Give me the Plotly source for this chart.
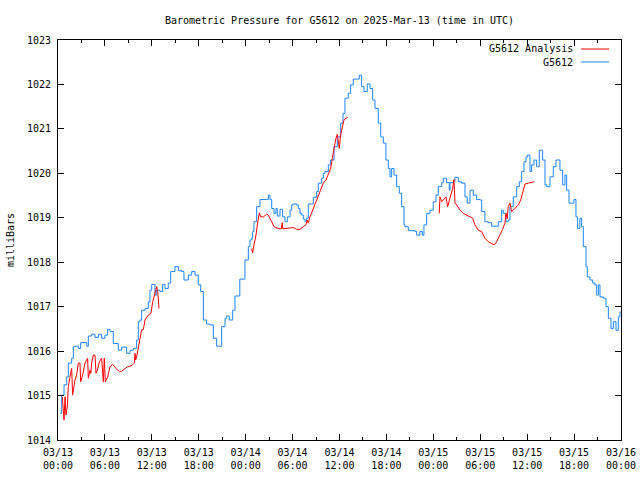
import plotly.graph_objects as go
import pandas as pd

base = pd.Timestamp("2025-03-13 00:00")

# hours since 2025-03-13 00:00 UTC, and pressure (mbar)
obs_hours = [0.26,0.47,0.77,1.11,1.32,1.75,1.96,2.17,2.60,2.90,3.67,3.88,4.30,4.73,5.16,5.58,6.01,6.35,6.65,7.07,
             7.71,8.14,8.57,8.78,9.21,9.63,10.06,10.27,10.49,10.70,11.13,11.55,11.76,11.98,12.40,12.62,13.04,13.38,13.68,14.10,
             14.41,14.96,15.39,15.82,16.11,16.67,17.10,17.52,17.94,18.25,18.59,19.01,19.44,19.86,20.29,20.50,20.93,21.36,21.57,21.90,
             22.34,22.63,23.25,23.91,24.34,24.55,24.77,24.89,25.06,25.40,25.83,26.69,26.90,27.11,27.33,27.62,27.88,28.04,28.39,28.73,
             29.03,29.32,29.67,29.88,30.09,30.52,30.73,30.95,31.16,31.37,31.59,31.80,32.01,32.44,32.65,33.08,33.29,33.72,33.93,34.14,
             34.57,34.87,35.30,35.72,36.15,36.45,36.70,37.12,37.42,37.76,38.27,38.53,38.83,39.13,39.55,39.90,40.24,40.54,40.96,41.27,
             41.60,41.94,42.24,42.46,42.67,42.97,43.31,43.65,43.95,44.25,44.37,44.80,45.65,45.87,46.29,46.59,46.80,47.15,47.57,47.99,
             48.34,48.63,49.07,49.27,49.70,50.04,50.13,50.55,50.77,51.19,51.62,52.05,52.34,52.69,53.11,53.54,53.96,54.18,54.60,55.03,
             55.46,55.88,56.30,56.74,56.94,57.29,57.58,57.80,58.22,58.66,58.99,59.30,59.59,59.85,60.06,60.36,60.57,60.87,61.21,61.55,
             61.98,62.28,62.49,62.92,63.34,63.68,64.10,64.19,64.54,64.83,65.05,65.35,65.69,65.98,66.24,66.46,66.75,66.97,67.18,67.52,
             67.69,68.03,68.38,68.67,68.89,69.10,69.31,69.73,70.08,70.38,70.72,71.02,71.36,71.66,71.87]
obs_values = [1014.60,1015.01,1015.24,1015.42,1015.73,1015.84,1016.10,1016.11,1016.06,1016.19,1016.11,1016.34,1016.38,1016.31,1016.38,1016.29,1016.36,1016.49,1016.44,1016.17,
              1016.02,1016.09,1016.09,1015.95,1016.02,1016.06,1016.25,1016.66,1016.70,1016.92,1016.96,1017.11,1017.37,1017.50,1017.26,1017.37,1017.34,1017.50,1017.41,1017.53,
              1017.79,1017.90,1017.81,1017.79,1017.60,1017.71,1017.79,1017.71,1017.49,1017.34,1016.70,1016.61,1016.59,1016.29,1016.11,1016.11,1016.55,1016.74,1016.79,1016.70,
              1016.92,1017.24,1017.62,1018.05,1018.35,1018.50,1018.54,1018.69,1018.91,1019.25,1019.41,1019.41,1019.51,1019.41,1019.21,1019.10,1019.21,1019.04,1019.19,1019.02,
              1018.91,1019.02,1019.17,1019.29,1019.31,1019.29,1019.21,1019.10,1019.06,1018.97,1018.91,1018.99,1019.31,1019.31,1019.46,1019.59,1019.78,1019.89,1020.00,1020.04,
              1020.19,1020.30,1020.60,1020.82,1021.13,1021.35,1021.69,1021.80,1021.99,1022.12,1022.12,1022.21,1021.95,1021.84,1022.01,1021.91,1021.65,1021.46,1021.13,1020.82,
              1020.68,1020.30,1020.11,1019.92,1020.11,1019.96,1019.70,1019.55,1019.25,1018.84,1018.80,1018.71,1018.69,1018.61,1018.69,1018.61,1018.84,1019.10,1019.17,1019.36,
              1019.51,1019.70,1019.79,1019.89,1019.79,1019.62,1019.79,1019.81,1019.91,1019.81,1019.78,1019.47,1019.33,1019.62,1019.51,1019.41,1019.40,1019.14,1018.91,1018.89,
              1018.81,1018.81,1018.91,1019.17,1019.10,1018.91,1018.95,1019.25,1019.47,1019.70,1019.81,1020.04,1020.26,1020.37,1020.41,1020.04,1020.19,1020.30,1020.15,1020.52,
              1020.30,1019.74,1019.70,1019.92,1020.15,1020.30,1020.30,1020.07,1019.74,1019.96,1019.62,1019.33,1019.33,1019.41,1019.02,1018.76,1018.99,1018.80,1018.35,1017.90,
              1017.67,1017.60,1017.53,1017.49,1017.26,1017.49,1017.22,1017.19,1017.00,1016.74,1016.51,1016.66,1016.47,1016.77,1016.89]

# analysis series; None marks gaps between runs
ana_hours = [0.55,0.77,0.90,1.02,1.19,1.32,1.53,1.65,1.75,1.87,1.96,2.17,2.38,2.60,2.81,2.90,3.15,3.45,3.66,3.79,
             3.88,4.09,4.20,4.30,4.52,4.73,4.86,5.03,5.29,5.58,5.80,5.92,6.05,6.35,6.65,6.99,7.42,7.84,8.14,8.57,
             8.91,9.42,9.76,9.85,9.93,10.06,10.27,10.49,10.70,10.91,11.13,11.55,11.89,12.11,12.40,12.62,12.75,12.92,
             18.0,
             24.77,24.89,25.06,25.32,25.49,25.75,25.92,26.26,26.69,26.90,27.33,27.62,28.17,28.55,28.68,28.75,29.16,29.67,30.09,30.52,
             30.95,31.37,31.71,31.88,32.01,32.23,32.65,32.99,33.29,33.63,33.93,34.27,34.57,34.87,35.08,35.29,35.55,35.72,35.97,36.14,
             36.40,36.57,36.83,37.04,
             42.0,
             48.76,48.85,49.07,49.27,49.62,49.83,50.04,50.21,50.47,50.64,50.77,50.98,51.41,51.83,52.26,52.69,53.03,53.32,53.75,54.18,
             54.60,55.03,55.46,55.79,56.09,56.52,56.86,57.16,57.29,57.45,57.58,57.80,58.01,58.44,58.86,59.17,59.42,59.72,60.15,60.57,
             60.91]
ana_values = [1014.97,1014.45,1014.97,1014.56,1014.75,1015.20,1015.42,1015.57,1015.61,1015.01,1015.10,1015.35,1015.46,1015.73,1015.73,1015.31,1015.46,1015.73,1015.80,1015.84,
              1015.39,1015.57,1015.50,1015.73,1015.91,1015.91,1015.50,1015.57,1015.76,1015.84,1015.31,1015.84,1015.31,1015.42,1015.65,1015.70,1015.61,1015.54,1015.55,1015.61,
              1015.65,1015.67,1015.73,1015.95,1015.80,1015.87,1016.06,1016.25,1016.48,1016.48,1016.70,1016.81,1016.85,1017.11,1017.30,1017.45,1017.34,1016.96,
              None,
              1018.31,1018.21,1018.39,1018.61,1018.84,1019.11,1019.02,1019.02,1019.08,1019.06,1018.91,1018.80,1018.76,1018.75,1018.89,1018.75,1018.76,1018.78,1018.78,1018.74,
              1018.74,1018.80,1018.84,1018.95,1018.88,1019.02,1019.21,1019.33,1019.47,1019.64,1019.78,1019.85,1020.00,1020.11,1020.34,1020.56,1020.79,1020.88,1020.56,1020.86,
              1021.05,1021.20,1021.24,1021.26,
              None,
              1019.10,1019.47,1019.36,1019.41,1019.47,1019.25,1019.40,1019.47,1019.66,1019.86,1019.33,1019.29,1019.17,1019.10,1019.06,1019.01,1018.99,1018.84,1018.72,1018.69,
              1018.54,1018.46,1018.41,1018.39,1018.46,1018.61,1018.74,1018.88,1019.10,1018.98,1019.25,1019.33,1019.14,1019.21,1019.29,1019.40,1019.59,1019.76,1019.78,1019.79,
              1019.81]

title_text = "Barometric Pressure for G5612 on 2025-Mar-13 (time in UTC)"
ytitle = "milliBars"
series_names = ["G5612 Analysis", "G5612"]
series_colors = ["#ff0000", "#1a84ff"]


def to_time(hrs):
    return [(base + pd.Timedelta(hours=h)).strftime("%Y-%m-%d %H:%M:%S") for h in hrs]


FONT = "DejaVu Sans Mono"

fig = go.Figure()
fig.add_trace(go.Scatter(x=to_time(obs_hours), y=obs_values, mode="lines", name=series_names[1],
                         line=dict(color=series_colors[1], width=1, shape="hv"), showlegend=False))
fig.add_trace(go.Scatter(x=to_time(ana_hours), y=ana_values, mode="lines", name=series_names[0],
                         line=dict(color=series_colors[0], width=1), connectgaps=False, showlegend=False))

# custom gnuplot-style legend (text left of sample line)
rows = [(0.9775, series_names[0], series_colors[0]), (0.945, series_names[1], series_colors[1])]
for yy, name, col in rows:
    fig.add_annotation(x=0.919, y=yy, xref="paper", yref="paper", text=name, showarrow=False,
                       xanchor="right", yanchor="middle", font=dict(family=FONT, size=10, color="black"))
    fig.add_shape(type="line", xref="paper", yref="paper", x0=0.929, x1=0.979, y0=yy, y1=yy,
                  line=dict(color=col, width=1))

fig.update_layout(
    width=640, height=480,
    margin=dict(l=58, r=19, t=40, b=40, autoexpand=False),
    paper_bgcolor="white", plot_bgcolor="white",
    font=dict(family=FONT, size=10, color="black"),
    title=dict(text=title_text, x=0.5, xref="paper", y=1 - 20 / 480, yref="container", yanchor="middle",
               automargin=False, font=dict(family=FONT, size=10, color="black")),
    showlegend=False,
)
fig.update_xaxes(
    type="date", automargin=False,
    range=["2025-03-13 00:00", "2025-03-16 00:00"],
    tick0="2025-03-13 00:00", dtick=6 * 3600 * 1000,
    tickformat="%m/%d<br>%H:%M",
    ticks="inside", ticklen=6, tickcolor="black", tickwidth=1,
    minor=dict(ticks="inside", dtick=3 * 3600 * 1000, ticklen=3, tickcolor="black"),
    showline=True, linecolor="black", linewidth=1, mirror="ticks",
    showgrid=False, zeroline=False, ticklabelstandoff=3,
    tickfont=dict(family=FONT, size=10),
)
fig.update_yaxes(
    automargin=False,
    range=[1014, 1023], dtick=1, tick0=1014,
    ticks="inside", ticklen=6, tickcolor="black", tickwidth=1,
    showline=True, linecolor="black", linewidth=1, mirror="ticks",
    showgrid=False, zeroline=False, ticklabelstandoff=4,
    title=dict(text=ytitle, font=dict(family=FONT, size=10), standoff=10),
    tickfont=dict(family=FONT, size=10),
)

fig.write_html("out.html", config={"displayModeBar": False},
               post_script="document.body.style.margin='0';document.body.style.padding='0';")
